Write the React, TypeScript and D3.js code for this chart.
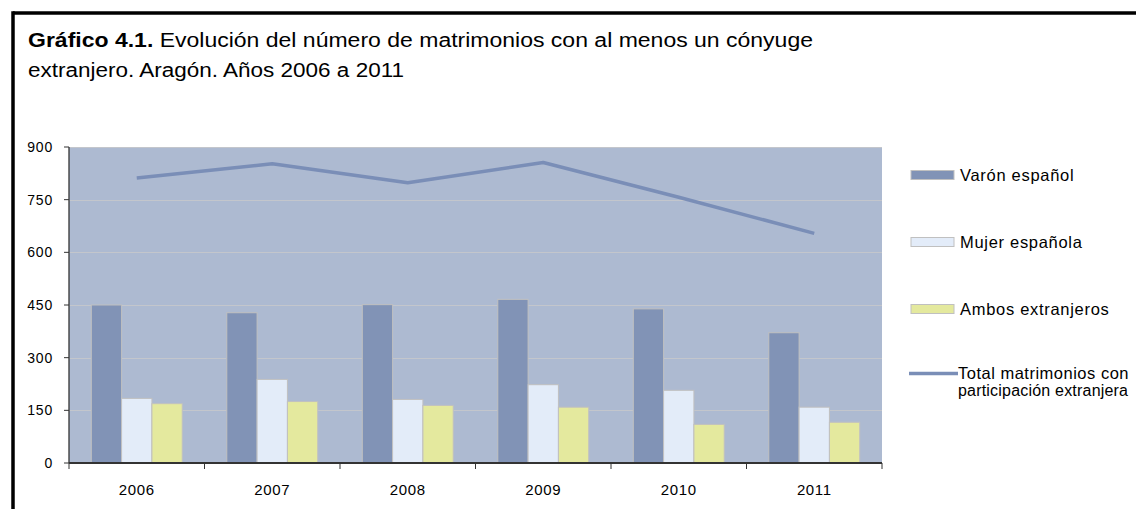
import React from "react";
import * as d3 from "d3";

const years = ["2006", "2007", "2008", "2009", "2010", "2011"];
const seriesNames = ["Varón español", "Mujer española", "Ambos extranjeros"];
const varonEspanol = [450, 428, 451, 466, 439, 371];
const mujerEspanola = [184, 238, 181, 223, 207, 159];
const ambosExtranjeros = [169, 175, 164, 159, 110, 116];
const totalMatrimonios = [812, 852, 798, 856, 757, 654];
const yTicks = [0, 150, 300, 450, 600, 750, 900];
const lineLegend = ["Total matrimonios con", "participación extranjera"];

const seriesValues = [varonEspanol, mujerEspanola, ambosExtranjeros];
const seriesColors = ["#8193b6", "#e3ecf9", "#e4e99e"];
const lineColor = "#7a8eb7";
const FONT = "'Liberation Sans', Arial, sans-serif";

export default function App() {
  const W = 1136, H = 509;
  const left = 69, right = 882, top = 147, bottom = 463;

  const x = d3.scaleBand<string>().domain(years).range([left, right]).paddingInner(0).paddingOuter(0);
  const xs = d3.scaleBand<string>().domain(seriesNames).range([0, x.bandwidth()]).paddingInner(0).paddingOuter(0.735);
  const y = d3.scaleLinear().domain([0, 900]).range([bottom, top]);

  const line = d3.line<number>()
    .x((_, i) => (x(years[i]) as number) + x.bandwidth() / 2)
    .y((d) => y(d));

  const boundaries = [...years.map((yr) => x(yr) as number), right];

  const legendY = [175, 242, 309];

  return (
    <svg width={W} height={H} style={{ position: "absolute", left: 0, top: 0, background: "#fff" }} fontFamily={FONT}>
      <rect x={0} y={0} width={W} height={H} fill="#fff" />
      {/* frame */}
      <line x1={13} y1={13} x2={W} y2={13} stroke="#000" strokeWidth={3.5} />
      <line x1={13} y1={11.25} x2={13} y2={H} stroke="#000" strokeWidth={3.5} />

      {/* title */}
      <text x={28} y={47} fontSize={19.5} fill="#000" textLength={785} lengthAdjust="spacingAndGlyphs">
        <tspan fontWeight="bold">Gráfico 4.1.</tspan>
        <tspan> Evolución del número de matrimonios con al menos un cónyuge</tspan>
      </text>
      <text x={28} y={77} fontSize={19.5} fill="#000" textLength={376} lengthAdjust="spacingAndGlyphs">extranjero. Aragón. Años 2006 a 2011</text>

      {/* plot background */}
      <rect x={left} y={top} width={right - left} height={bottom - top} fill="#adbad1" />
      {yTicks.map((t) => (
        <line key={t} x1={left} x2={right} y1={Math.round(y(t)) + 0.5} y2={Math.round(y(t)) + 0.5} stroke="#c3c6cc" strokeWidth={1} />
      ))}

      {/* bars */}
      {years.map((yr, i) => (
        <g key={yr} transform={`translate(${x(yr)},0)`}>
          {seriesNames.map((s, j) => (
            <rect
              key={s}
              x={xs(s) as number}
              y={y(seriesValues[j][i])}
              width={xs.bandwidth()}
              height={y(0) - y(seriesValues[j][i])}
              fill={seriesColors[j]}
              stroke="#c0c0c0"
              strokeWidth={1}
            />
          ))}
        </g>
      ))}

      {/* total line */}
      <path d={line(totalMatrimonios) || ""} fill="none" stroke={lineColor} strokeWidth={3.5} strokeLinejoin="round" />

      {/* y axis */}
      <line x1={left} x2={left} y1={top} y2={bottom} stroke="#333" strokeWidth={1.3} />
      {yTicks.map((t) => (
        <g key={t}>
          <line x1={left - 5} x2={left} y1={y(t)} y2={y(t)} stroke="#333" strokeWidth={1} />
          <text x={53} y={y(t) + 5} textAnchor="end" fontSize={14} letterSpacing={0.8} fill="#000">{t}</text>
        </g>
      ))}

      {/* x axis */}
      <line x1={left} x2={right} y1={bottom} y2={bottom} stroke="#333" strokeWidth={2} />
      {boundaries.map((b, i) => (
        <line key={i} x1={b} x2={b} y1={bottom} y2={bottom + 6} stroke="#333" strokeWidth={1} />
      ))}
      {years.map((yr) => (
        <text key={yr} x={(x(yr) as number) + x.bandwidth() / 2} y={495} textAnchor="middle" fontSize={15} letterSpacing={0.6} fill="#000">{yr}</text>
      ))}

      {/* legend */}
      {seriesNames.map((s, j) => (
        <g key={s}>
          <rect x={911} y={legendY[j] - 4.5} width={43} height={9} fill={seriesColors[j]} stroke="#c0c0c0" strokeWidth={1} />
          <text x={960} y={legendY[j] + 5.5} fontSize={16.5} letterSpacing={0.7} fill="#000">{s}</text>
        </g>
      ))}
      <line x1={909} x2={958} y1={373.5} y2={373.5} stroke={lineColor} strokeWidth={3.5} />
      <text x={958} y={379} fontSize={16.5} letterSpacing={0.5} fill="#000">{lineLegend[0]}</text>
      <text x={958} y={396} fontSize={16} letterSpacing={0.2} fill="#000">{lineLegend[1]}</text>
    </svg>
  );
}
